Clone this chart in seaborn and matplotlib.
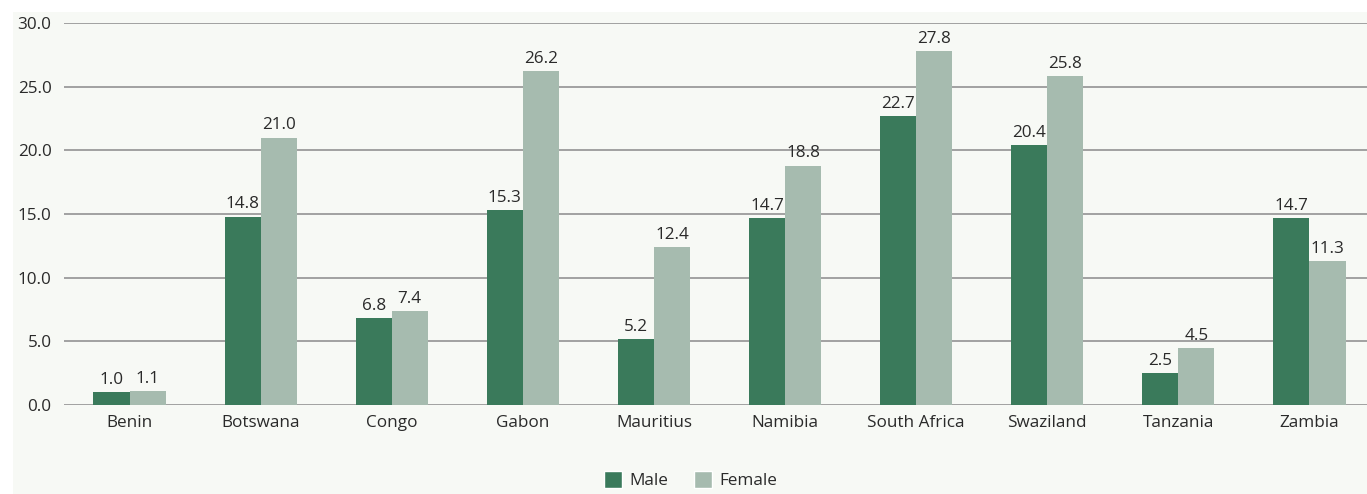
import matplotlib
matplotlib.use("Agg")
import matplotlib.pyplot as plt
import matplotlib.patches as mpatches
import seaborn as sns
import pandas as pd

countries = ["Benin", "Botswana", "Congo", "Gabon", "Mauritius", "Namibia",
             "South Africa", "Swaziland", "Tanzania", "Zambia"]
male = [1.0, 14.8, 6.8, 15.3, 5.2, 14.7, 22.7, 20.4, 2.5, 14.7]
female = [1.1, 21.0, 7.4, 26.2, 12.4, 18.8, 27.8, 25.8, 4.5, 11.3]
series = ["Male", "Female"]
y_ticks = [0, 5, 10, 15, 20, 25, 30]

colors = {"Male": "#3a7a5b", "Female": "#a6bbaf"}
bg = "#f7f9f5"
text_color = "#2a2a2a"

df = pd.DataFrame({
    "Country": countries * 2,
    "Sex": ["Male"] * len(countries) + ["Female"] * len(countries),
    "Value": male + female,
})

sns.set_theme(style="white")
plt.rcParams["font.family"] = ["Open Sans", "DejaVu Sans"]

W, H = 1367, 494
fig = plt.figure(figsize=(W / 100, H / 100), dpi=100)
fig.patch.set_facecolor("white")
# light panel behind the chart
fig.patches.append(mpatches.Rectangle((13 / W, 0), 1, 1 - 12 / H,
                                      transform=fig.transFigure,
                                      facecolor=bg, edgecolor="none", zorder=-10))

ax = fig.add_axes([64 / W, (H - 405) / H, 1311 / W, (405 - 23) / H])
ax.set_facecolor("none")

sns.barplot(data=df, x="Country", y="Value", hue="Sex", order=countries,
            hue_order=series, palette=colors, width=0.55, gap=0,
            saturation=1, linewidth=0, ax=ax, legend=False)

ax.set_xlim(-0.5, len(countries) - 0.5)
ax.set_ylim(0, 30)
ax.set_yticks(y_ticks)
ax.set_yticklabels([f"{v:.1f}" for v in y_ticks])
ax.yaxis.grid(True, color="#8a8a8a", linewidth=1.1)
ax.set_axisbelow(True)
for s in ax.spines.values():
    s.set_visible(False)
ax.set_xlabel("")
ax.set_ylabel("")
ax.tick_params(axis="both", length=0, labelsize=12.3, colors=text_color)
ax.tick_params(axis="x", pad=7)
ax.tick_params(axis="y", pad=9)

for cont in ax.containers:
    ax.bar_label(cont, fmt="%.1f", padding=3, fontsize=12.3, color=text_color)

handles = [mpatches.Patch(facecolor=colors[s], label=s) for s in series]
fig.legend(handles=handles, loc="lower center", bbox_to_anchor=(0.505, -0.022),
           ncol=2, frameon=False, fontsize=12.3, handlelength=1.1,
           handleheight=1.1, handletextpad=0.4, columnspacing=1.5,
           labelcolor=text_color)

fig.savefig("out.png", dpi=100, facecolor="white")
